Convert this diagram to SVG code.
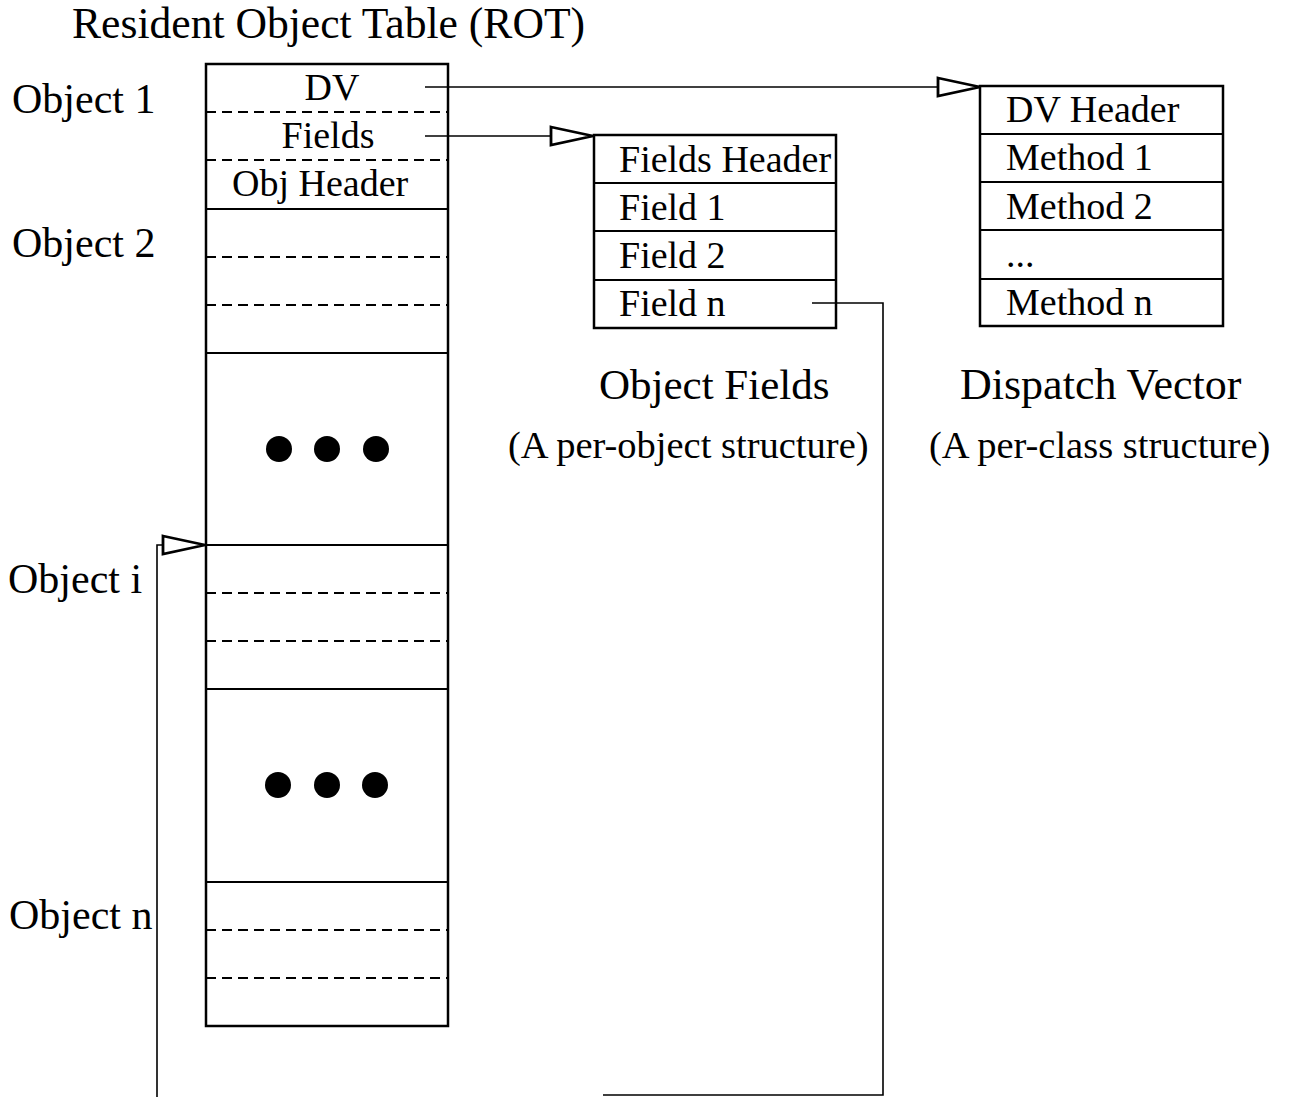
<svg xmlns="http://www.w3.org/2000/svg" width="1294" height="1097" viewBox="0 0 1294 1097">
<defs>
<style>
text{font-family:"Liberation Serif","Times New Roman",serif;fill:#000}
.lbl{font-size:42px}
.hd{font-size:43px}
.sub{font-size:38.5px}
.cell{font-size:38px}
.box{fill:#fff;stroke:#000;stroke-width:2.5}
.sep{stroke:#000;stroke-width:2}
.dash{stroke:#000;stroke-width:1.8;stroke-dasharray:10 6}
.conn{fill:none;stroke:#000;stroke-width:1.6}
.dot{fill:#000}
</style>
<marker id="open" viewBox="0 0 46 22" refX="44" refY="11" markerWidth="46" markerHeight="22" markerUnits="userSpaceOnUse" orient="auto">
<path d="M2,2 L44,11 L2,20 Z" fill="#fff" stroke="#000" stroke-width="2.8"/>
</marker>
</defs>
<rect width="1294" height="1097" fill="#fff"/>
<text class="hd" x="72" y="38" style="font-size:43.6px">Resident Object Table (ROT)</text>
<text class="lbl" x="12" y="113">Object 1</text>
<text class="lbl" x="12" y="257">Object 2</text>
<text class="lbl" x="8" y="593">Object i</text>
<text class="lbl" x="9" y="929">Object n</text>
<g id="rot">
<rect class="box" x="206" y="64" width="242" height="962"/>
<line class="dash" x1="206" y1="112" x2="448" y2="112"/>
<line class="dash" x1="206" y1="160" x2="448" y2="160"/>
<line class="sep" x1="206" y1="209" x2="448" y2="209"/>
<line class="dash" x1="206" y1="257" x2="448" y2="257"/>
<line class="dash" x1="206" y1="305" x2="448" y2="305"/>
<line class="sep" x1="206" y1="353" x2="448" y2="353"/>
<line class="sep" x1="206" y1="545" x2="448" y2="545"/>
<line class="dash" x1="206" y1="593" x2="448" y2="593"/>
<line class="dash" x1="206" y1="641" x2="448" y2="641"/>
<line class="sep" x1="206" y1="689" x2="448" y2="689"/>
<line class="sep" x1="206" y1="882" x2="448" y2="882"/>
<line class="dash" x1="206" y1="930" x2="448" y2="930"/>
<line class="dash" x1="206" y1="978" x2="448" y2="978"/>
<text class="cell" x="332" y="100" text-anchor="middle">DV</text>
<text class="cell" x="328" y="148" text-anchor="middle">Fields</text>
<text class="cell" x="232" y="196">Obj Header</text>
<circle class="dot" cx="279" cy="449" r="13"/>
<circle class="dot" cx="327" cy="449" r="13"/>
<circle class="dot" cx="376" cy="449" r="13"/>
<circle class="dot" cx="278" cy="785" r="13"/>
<circle class="dot" cx="327" cy="785" r="13"/>
<circle class="dot" cx="375" cy="785" r="13"/>
</g>
<g id="fields">
<rect class="box" x="594" y="135" width="242" height="193"/>
<line class="sep" x1="594" y1="183" x2="836" y2="183"/>
<line class="sep" x1="594" y1="231" x2="836" y2="231"/>
<line class="sep" x1="594" y1="280" x2="836" y2="280"/>
<text class="cell" x="619" y="172">Fields Header</text>
<text class="cell" x="619" y="220">Field 1</text>
<text class="cell" x="619" y="268">Field 2</text>
<text class="cell" x="619" y="316">Field n</text>
<text class="hd" x="599" y="399">Object Fields</text>
<text class="sub" x="508" y="458">(A per-object structure)</text>
</g>
<g id="dispatch">
<rect class="box" x="980" y="86" width="243" height="240"/>
<line class="sep" x1="980" y1="134" x2="1223" y2="134"/>
<line class="sep" x1="980" y1="182" x2="1223" y2="182"/>
<line class="sep" x1="980" y1="230" x2="1223" y2="230"/>
<line class="sep" x1="980" y1="279" x2="1223" y2="279"/>
<text class="cell" x="1006" y="122">DV Header</text>
<text class="cell" x="1006" y="170">Method 1</text>
<text class="cell" x="1006" y="219">Method 2</text>
<text class="cell" x="1006" y="267">...</text>
<text class="cell" x="1006" y="315">Method n</text>
<text class="hd" x="960" y="399" style="font-size:44px">Dispatch Vector</text>
<text class="sub" x="929" y="458">(A per-class structure)</text>
</g>
<g id="connectors">
<path class="conn" d="M425,87 L980,87" marker-end="url(#open)"/>
<path class="conn" d="M425,136 L593,136" marker-end="url(#open)"/>
<path class="conn" d="M812,303 L883,303 L883,1095 L603,1095"/>
<path class="conn" d="M157,1097 L157,545 L205,545" marker-end="url(#open)"/>
</g>
</svg>
